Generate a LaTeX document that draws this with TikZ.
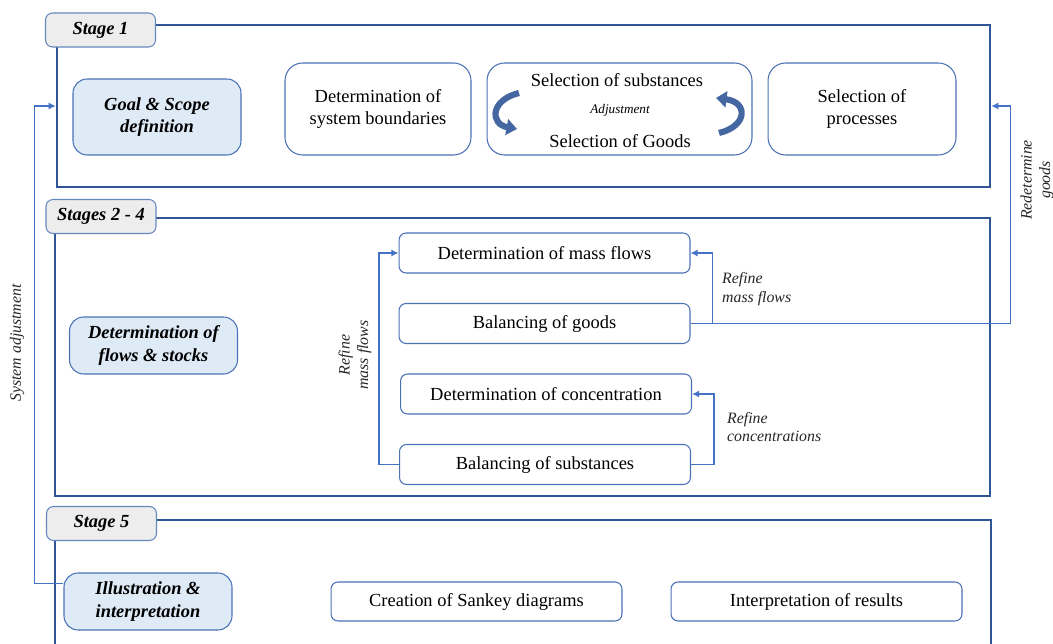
\documentclass[tikz,border=0pt]{standalone}
\usepackage{fontspec}
\setmainfont{Liberation Serif}
\usetikzlibrary{fit,arrows.meta}
\definecolor{frameblue}{HTML}{2F5597}
\definecolor{boxblue}{HTML}{4A72B5}
\definecolor{linkblue}{HTML}{4472C4}
\definecolor{tabgray}{HTML}{EDEDED}
\definecolor{paleblue}{HTML}{DEEAF6}

\begin{document}
\begin{tikzpicture}[x=0.02cm,y=-0.02cm,
   stageframe/.style={draw=frameblue,line width=1.4pt,inner sep=0pt},
   stagetab/.style={draw=boxblue!85,fill=tabgray,rounded corners=4pt,line width=0.6pt,
      minimum width=2.2cm,minimum height=0.68cm,font=\bfseries\itshape\fontsize{10.5}{12}\selectfont},
   task/.style={draw=boxblue,fill=white,rounded corners=10pt,line width=0.6pt,align=center,
      font=\fontsize{10.5}{12.5}\selectfont},
   phase/.style={task,fill=paleblue,rounded corners=8pt,minimum width=3.36cm,
      font=\bfseries\itshape\fontsize{10.5}{13}\selectfont},
   wide/.style={task,rounded corners=4pt,minimum width=5.82cm,minimum height=0.8cm},
   link/.style={draw=linkblue,line width=0.9pt},
   tip/.style={-{Latex[length=4pt,width=4pt]}},
   note/.style={font=\itshape\fontsize{9}{10.5}\selectfont,text=black!85},
   swap/.style={draw=frameblue!90,line width=3.5pt,-{Triangle[width=9pt,length=6pt]}}]
\useasboundingbox (0,0) rectangle (1053,644);

% stage frames
\node[stageframe,fit={(57,25) (990,187)}] (s1) {};
\node[stageframe,fit={(55,218) (990,496)}] (s24) {};
\draw[frameblue,line width=1.4pt] (55,650) -- (55,520) -- (991,520) -- (991,650);
\node[stagetab] (t1) at (100.5,30) {Stage 1};
\node[stagetab] (t24) at (101,216.5) {Stages 2 - 4};
\node[stagetab] (t5) at (101.5,523.5) {Stage 5};

% stage 1
\node[phase,minimum height=1.52cm] (goal) at (157,117) {Goal \& Scope\\definition};
\node[task,minimum width=3.72cm,minimum height=1.84cm] (bound) at (378,109) {Determination of\\system boundaries};
\node[task,minimum width=5.3cm,minimum height=1.84cm] (sel) at (619.5,109) {};
\node[font=\fontsize{10.5}{12.5}\selectfont] (selsub) at (617,80) {Selection of substances};
\node[font=\itshape\fontsize{7.5}{9}\selectfont] (adj) at (620,110) {Adjustment};
\node[font=\fontsize{10.5}{12.5}\selectfont] (selgood) at (620,141) {Selection of Goods};
\node[task,minimum width=3.76cm,minimum height=1.84cm] (proc) at (862,109) {Selection of\\processes};
\draw[swap] (519,93) .. controls (490,100) and (490,124) .. (517,129);
\draw[swap] (719,133) .. controls (748,126) and (748,102) .. (716,98);

% stages 2 - 4
\node[phase,minimum height=1.14cm] (flows) at (153.5,345.5) {Determination of\\flows \& stocks};
\node[wide] (massf) at (544.5,253) {Determination of mass flows};
\node[wide] (goods) at (544.5,323.5) {Balancing of goods};
\node[wide] (conc) at (546,394) {Determination of concentration};
\node[wide] (subs) at (545,464.5) {Balancing of substances};

% stage 5
\node[phase,minimum height=1.14cm] (illus) at (148,601.5) {Illustration \&\\interpretation};
\node[wide,minimum height=0.78cm] (sankey) at (476.5,601.5) {Creation of Sankey diagrams};
\node[wide,minimum height=0.78cm] (results) at (816.5,601.5) {Interpretation of results};

% feedback loops
\draw[link,tip] (goods.east) -- ++(22,0) |- (massf.east);
\draw[link,tip] (goods.east) -- ++(320,0) |- (s1.east);
\draw[link,tip] (subs.west) -- ++(-20,0) |- (massf.west);
\draw[link,tip] (subs.east) -- ++(23,0) |- (conc.east);
\draw[link,tip] (illus.168) -- ++(-29,0) |- (s1.west);

\node[note,align=left,anchor=west] (rmf) at (716,289) {Refine\\mass flows};
\node[note,align=left,anchor=west] (rc) at (721,427) {Refine\\concentrations};
\node[note,align=center,rotate=90] (rml) at (355,355) {Refine\\mass flows};
\node[note,align=center,rotate=90] (redet) at (1037,180) {Redetermine\\goods};
\node[note,rotate=90] (sysadj) at (17,343) {System adjustment};
\end{tikzpicture}
\end{document}
